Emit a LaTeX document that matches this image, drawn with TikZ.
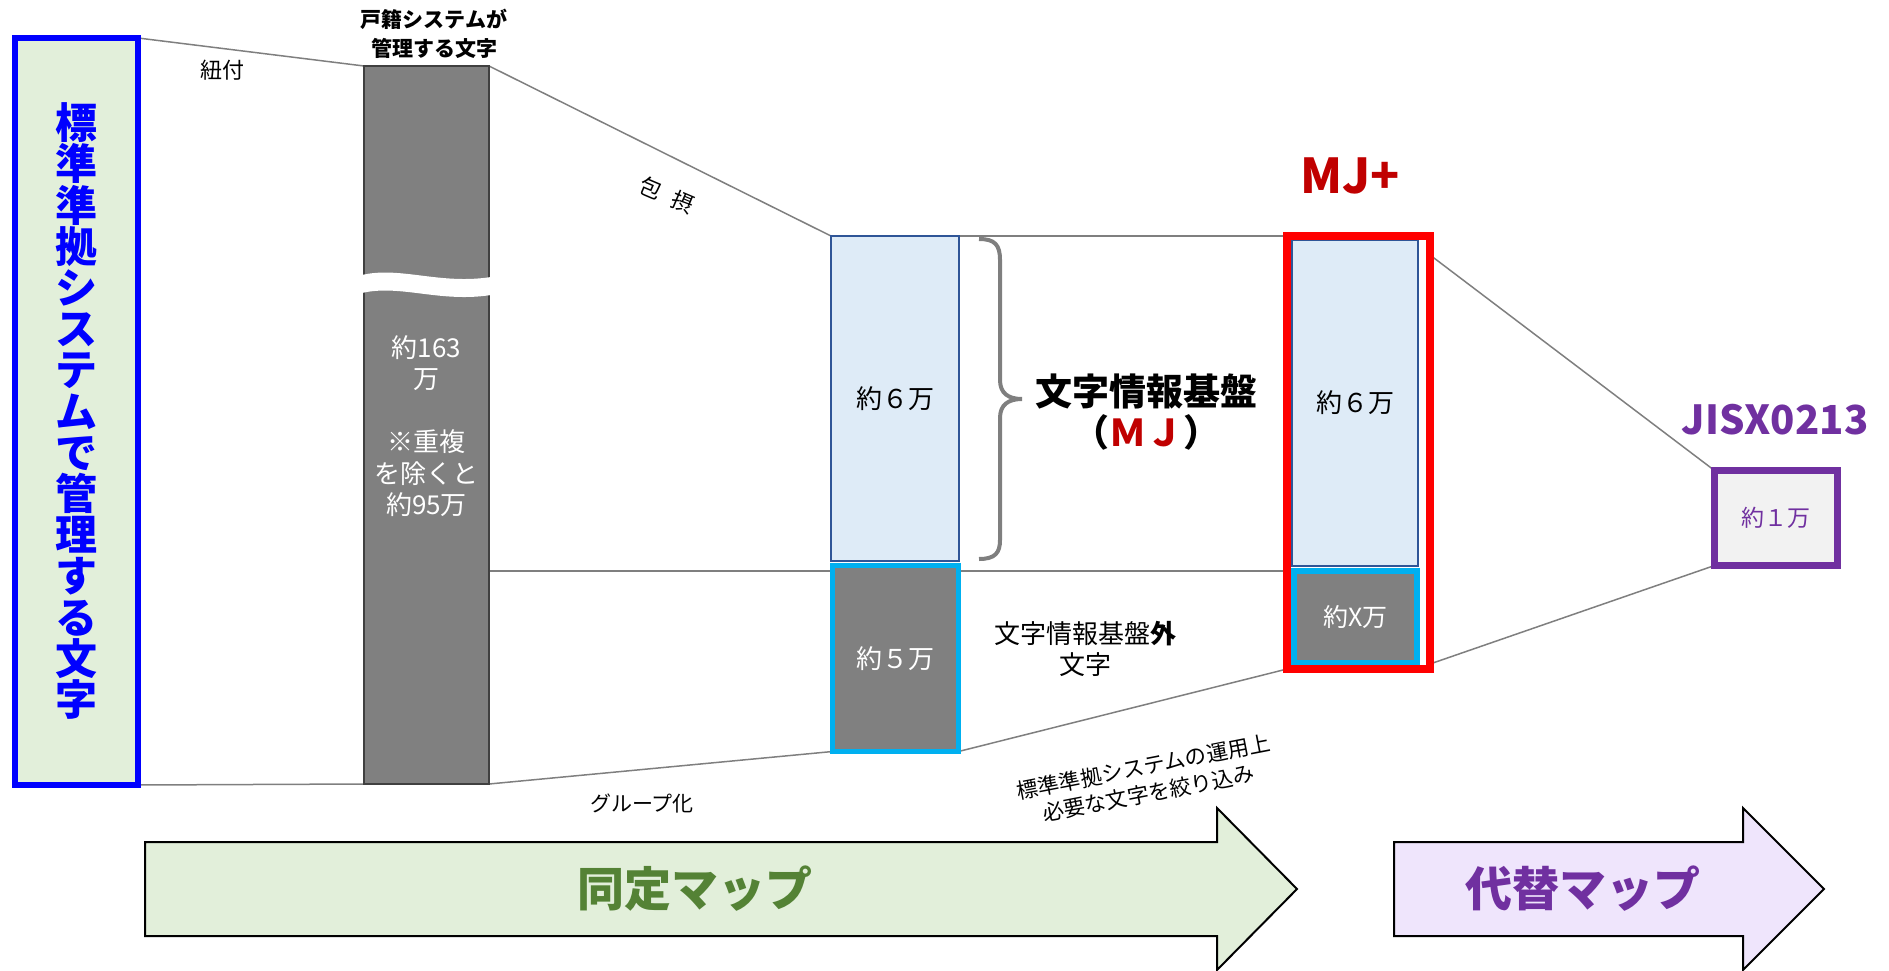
\documentclass[tikz,border=0pt]{standalone}
\usepackage{fontspec}
\setmainfont{Noto Sans CJK JP}
\usepackage{xcolor}
\usetikzlibrary{backgrounds}

\definecolor{stdblue}{HTML}{0000FF}
\definecolor{stdgreen}{HTML}{E2EFDA}
\definecolor{bargray}{HTML}{808080}
\definecolor{bardark}{HTML}{404040}
\definecolor{linegray}{HTML}{7F7F7F}
\definecolor{mjfill}{HTML}{DEEBF7}
\definecolor{mjborder}{HTML}{2F5597}
\definecolor{cyanb}{HTML}{00B0F0}
\definecolor{mjred}{HTML}{C00000}
\definecolor{jispurple}{HTML}{7030A0}
\definecolor{jisfill}{HTML}{F2F2F2}
\definecolor{mapgreen}{HTML}{548235}
\definecolor{lavender}{HTML}{EFE5FC}

\newcommand{\fsz}[2]{\fontsize{#1}{#2}\selectfont}

\tikzset{
	bar/.style={rectangle, inner sep=0pt, outer sep=0pt},
	conn/.style={draw=linegray, line width=1.5pt},
}

\begin{document}
\begin{tikzpicture}[x=1pt, y=-1pt]
	\useasboundingbox (0,0) rectangle (1889,971);

		\node[bar, draw=stdblue, line width=6pt, fill=stdgreen, minimum width=123pt, minimum height=747pt] (std) at (76.5,411.5) {};
		\node[font=\fsz{42}{41.2}\bfseries, text=stdblue, align=center] (stdtxt) at (76,411) {標\\準\\準\\拠\\シ\\ス\\テ\\ム\\で\\管\\理\\す\\る\\文\\字};

		\node[bar, draw=bardark, line width=1.5pt, fill=bargray, minimum width=125pt, minimum height=718pt] (koseki) at (426.5,425) {};
		\fill[white] (362,275) .. controls (400,266) and (440,285) .. (491,277) -- (491,295) .. controls (440,303) and (400,284) .. (362,293) -- cycle;
		\node[font=\fsz{26}{31.5}, text=white, align=center] (kosekitxt) at (426.5,426) {約163\\万\\[31.5pt]※重複\\を除くと\\約95万};
		\node[font=\fsz{21}{29}\bfseries, align=center] (kosekittl) at (434,34) {戸籍システムが\\管理する文字};

		\node[bar, draw=mjborder, line width=2pt, fill=mjfill, minimum width=128pt, minimum height=325pt, font=\fsz{26}{30}] (mj) at (895,398.5) {約６万};
		\node[bar, draw=cyanb, line width=5pt, fill=bargray, minimum width=126pt, minimum height=186pt, font=\fsz{26}{30}, text=white] (gaiji) at (895.5,658.5) {約５万};

		\draw[linegray, line width=4pt] (979,239) .. controls (995,239) and (1000,245) .. (1000,260) -- (1000,380) .. controls (1000,393) and (1008,399) .. (1022,399) .. controls (1008,399) and (1000,405) .. (1000,418) -- (1000,540) .. controls (1000,553) and (995,559) .. (979,559);
		\node[font=\fsz{37}{41}\bfseries, align=center] (lblmj) at (1146,412) {文字情報基盤\\（\textcolor{mjred}{ＭＪ}）};
		\node[font=\fsz{26}{31}, align=center] (lblgai) at (1085,649) {文字情報基盤\textbf{外}\\文字};

		\node[bar, draw=mjborder, line width=2pt, fill=mjfill, minimum width=126pt, minimum height=326pt, font=\fsz{26}{30}] (mjpsix) at (1355,403) {約６万};
		\node[bar, draw=cyanb, line width=6pt, fill=bargray, minimum width=123pt, minimum height=92pt, font=\fsz{25}{30}, text=white] (mjpx) at (1355.5,617) {約X万};
		\node[bar, draw=red, line width=7.5pt, minimum width=143pt, minimum height=433pt] (mjp) at (1358.5,452.5) {};
		\node[font=\fsz{48}{52}\bfseries, text=mjred] (lblmjp) at (1350,176) {MJ+};

		\node[bar, draw=jispurple, line width=7pt, fill=jisfill, minimum width=123pt, minimum height=95pt, font=\fsz{23}{28}, text=jispurple] (jis) at (1776,518) {約１万};
		\node[font=\fsz{40}{44}\bfseries, text=jispurple] (lbljis) at (1775,420) {JISX0213};

		\node[font=\fsz{22}{26}] (lblhimo) at (222,70) {紐付};
		\node[font=\fsz{22}{26}, rotate=-23] (lblhosetsu) at (667,195) {包\hspace{0.6em}摂};
		\node[font=\fsz{21}{26}] (lblgroup) at (642,803) {グループ化};
		\node[font=\fsz{21.5}{27}, align=center, rotate=11] (lblnarrow) at (1146,780) {標準準拠システムの運用上\\必要な文字を絞り込み};

		\begin{scope}[on background layer]
			\draw[conn] (std.north east) -- (koseki.north west);
			\draw[conn] (std.south east) -- (koseki.south west);
			\draw[conn] (koseki.north east) -- (mj.north west);
			\draw[conn] (mj.north east) -- (mjp.west |- mj.north);
			\draw[conn] (koseki.east |- mjpx.north) -- (mjp.west |- mjpx.north);
			\draw[conn] (koseki.south east) -- (gaiji.south west);
			\draw[conn] (gaiji.south east) -- (mjp.south west);
			\draw[conn] ([yshift=-19pt]mjp.north east) -- (jis.north west);
			\draw[conn] ([yshift=5pt]mjp.south east) -- (jis.south west);
		\end{scope}

		\draw[fill=stdgreen, line width=2pt] (145,842) -- (1217,842) -- (1217,808) -- (1297,889) -- (1217,970) -- (1217,936) -- (145,936) -- cycle;
		\node[font=\fsz{47}{50}\bfseries, text=mapgreen] (lbldotei) at (695,889) {同定マップ};
		\draw[fill=lavender, line width=2pt] (1394,842) -- (1743,842) -- (1743,808) -- (1824,889) -- (1743,970) -- (1743,936) -- (1394,936) -- cycle;
		\node[font=\fsz{47}{50}\bfseries, text=jispurple] (lbldaitai) at (1583,889) {代替マップ};
	\end{tikzpicture}
\end{document}
